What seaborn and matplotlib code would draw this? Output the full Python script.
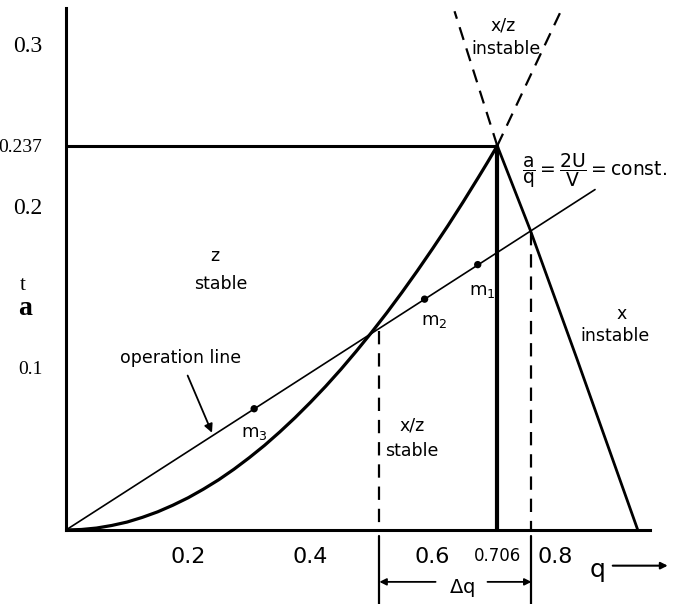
import numpy as np
import pandas as pd
import seaborn as sns
import matplotlib.pyplot as plt
from matplotlib import font_manager

# stability boundary (q, a)
q_left = [0, 0.025, 0.05, 0.075, 0.1, 0.125, 0.15, 0.175, 0.2, 0.225, 0.25, 0.275, 0.3, 0.325,
          0.35, 0.375, 0.4, 0.425, 0.45, 0.475, 0.5, 0.525, 0.55, 0.575, 0.6, 0.625, 0.65,
          0.675, 0.69, 0.706]
a_left = [0, 0.0003, 0.0012, 0.0028, 0.0049, 0.0078, 0.0112, 0.0153, 0.0199, 0.0252, 0.031,
          0.0375, 0.0446, 0.0522, 0.0605, 0.0693, 0.0787, 0.0886, 0.0991, 0.1102, 0.1218,
          0.1339, 0.1466, 0.1598, 0.1735, 0.1876, 0.2023, 0.2175, 0.2268, 0.237]
q_right = [0.706, 0.76, 0.836, 0.936]
a_right = [0.237, 0.185, 0.106, 0.0]

# operation line a/q = const.
q_op = [0, 0.866]
a_op = [0, 0.210]

# masses on the operation line
m_q = [0.674, 0.587, 0.308]
m_a = [0.1637, 0.1424, 0.0748]
m_names = ["m$_1$", "m$_2$", "m$_3$"]

# crossing points of the operation line with the boundary
q_cross = [0.513, 0.762]
a_cross = [0.1226, 0.184]

# apex and the dashed "x/z instable" wedge
q_peak, a_peak = 0.706, 0.237
q_wedge = [0.636, 0.81]
a_wedge = [0.32, 0.32]

x_ticks = [0.2, 0.4, 0.6, 0.706, 0.8]
x_labels = ["0.2", "0.4", "0.6", "0.706", "0.8"]
y_ticks = [0.1, 0.2, 0.237, 0.3]
y_labels = ["0.1", "0.2", "0.237", "0.3"]

sns.set_style("white")
plt.rcParams['font.family'] = ['DejaVu Sans']
plt.rcParams['mathtext.fontset'] = 'dejavusans'
for k in ['text.color', 'axes.labelcolor', 'xtick.color', 'ytick.color']:
    plt.rcParams[k] = 'black'

names = {f.name for f in font_manager.fontManager.ttflist}
tick_font = 'Liberation Sans Narrow' if 'Liberation Sans Narrow' in names else 'DejaVu Sans'

W, H = 677, 604
fig = plt.figure(figsize=(W / 100, H / 100), dpi=100)
ax = fig.add_axes([66 / W, 74 / H, 584 / W, 522 / H])

left = pd.DataFrame({"q": q_left, "a": a_left})
right = pd.DataFrame({"q": q_right, "a": a_right})
sns.lineplot(data=left, x="q", y="a", color="black", lw=2.3, ax=ax, sort=False, estimator=None)
sns.lineplot(data=right, x="q", y="a", color="black", lw=2.0, ax=ax, sort=False, estimator=None)
sns.lineplot(x=q_op, y=a_op, color="black", lw=1.2, ax=ax, sort=False, estimator=None)
sns.scatterplot(x=m_q, y=m_a, color="black", s=28, ax=ax, zorder=5, edgecolor="none")

# horizontal apex line and vertical at q = 0.706
ax.plot([0, q_peak], [a_peak, a_peak], color="black", lw=2.2)
ax.plot([q_peak, q_peak], [0, a_peak], color="black", lw=3.0)

# dashed wedge above apex
for qw, aw in zip(q_wedge, a_wedge):
    ax.plot([q_peak, qw], [a_peak, aw], color="black", lw=1.6, ls=(0, (6, 4)), clip_on=False)

# dashed verticals at the crossings, continued solid below the axis
for qc, ac in zip(q_cross, a_cross):
    ax.plot([qc, qc], [ac, 0], color="black", lw=1.6, ls=(0, (6, 4)))
    ax.plot([qc, qc], [-0.004, -0.047], color="black", lw=1.6, clip_on=False)

ax.set_xlim(0, 0.956)
ax.set_ylim(0, 0.322)
sns.despine(ax=ax)
for s in ["left", "bottom"]:
    ax.spines[s].set_linewidth(2.2)
    ax.spines[s].set_color("black")

ax.set_xticks(x_ticks)
ax.set_xticklabels(x_labels)
ax.tick_params(axis="x", direction="out", length=7, width=1.4, pad=5, labelsize=16)
for lab in ax.get_xticklabels():
    lab.set_family(tick_font)
    if lab.get_text() == "0.706":
        lab.set_fontsize(12)

ax.set_yticks(y_ticks)
ax.set_yticklabels(y_labels)
ax.tick_params(axis="y", direction="out", length=0, pad=17)
for lab in ax.get_yticklabels():
    lab.set_family("Liberation Serif")
    lab.set_fontsize(17 if lab.get_text() in ("0.2", "0.3") else 14)
ax.yaxis.get_major_ticks()[2].tick1line.set_markersize(5)
ax.yaxis.get_major_ticks()[2].tick1line.set_markeredgewidth(2)
ax.set_xlabel("")
ax.set_ylabel("")

# axis label "t a"
fig.text(23 / W, 1 - 285 / H, "t", family="Liberation Serif", fontsize=15, ha="center", va="center")
fig.text(25 / W, 1 - 308 / H, "a", family="Liberation Serif", fontsize=20, weight="bold",
         ha="center", va="center")

fs = 12.5
ax.text(0.243, 0.169, "z", fontsize=fs, ha="center", va="center")
ax.text(0.254, 0.152, "stable", fontsize=fs, ha="center", va="center")
ax.text(0.566, 0.0644, "x/z", fontsize=fs, ha="center", va="center")
ax.text(0.566, 0.049, "stable", fontsize=fs, ha="center", va="center")
ax.text(0.91, 0.133, "x", fontsize=fs, ha="center", va="center")
ax.text(0.898, 0.1196, "instable", fontsize=fs, ha="center", va="center")
ax.text(0.715, 0.311, "x/z", fontsize=fs, ha="center", va="center")
ax.text(0.72, 0.297, "instable", fontsize=fs, ha="center", va="center")
ax.text(0.746, 0.222, r"$\dfrac{\mathrm{a}}{\mathrm{q}}=\dfrac{\mathrm{2U}}{\mathrm{V}}=$const.",
        fontsize=13.5, ha="left", va="center")

offsets = [(0.008, -0.016), (0.016, -0.0135), (0.0, -0.0148)]
for qm, am, nm, (dq, da) in zip(m_q, m_a, m_names, offsets):
    ax.text(qm + dq, am + da, nm, fontsize=13, ha="center", va="center")

ax.annotate("operation line", xy=(0.239, 0.060), xytext=(0.187, 0.106),
            fontsize=fs, ha="center", va="center",
            arrowprops=dict(arrowstyle="-|>", color="black", lw=1.3, shrinkA=4, shrinkB=0))

# delta q below the axis
ax.text(0.6475, -0.036, r"$\Delta$q", fontsize=14, ha="center", va="center", clip_on=False)
ax.annotate("", xy=(q_cross[0], -0.032), xytext=(0.605, -0.032), annotation_clip=False,
            arrowprops=dict(arrowstyle="-|>", color="black", lw=1.3, shrinkA=0, shrinkB=0))
ax.annotate("", xy=(q_cross[1], -0.032), xytext=(0.69, -0.032), annotation_clip=False,
            arrowprops=dict(arrowstyle="-|>", color="black", lw=1.3, shrinkA=0, shrinkB=0))

# q arrow
ax.text(0.87, -0.0245, "q", fontsize=18, ha="center", va="center", clip_on=False)
ax.annotate("", xy=(0.985, -0.022), xytext=(0.895, -0.022), annotation_clip=False,
            arrowprops=dict(arrowstyle="-|>", color="black", lw=1.5, shrinkA=0, shrinkB=0))

fig.savefig("out.png", dpi=100)
